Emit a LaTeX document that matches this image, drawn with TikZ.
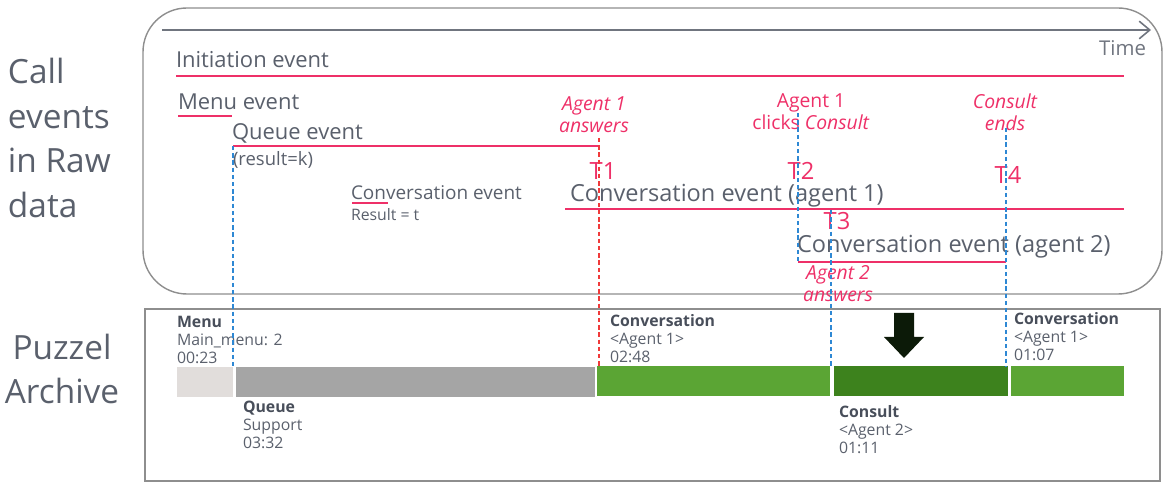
\documentclass[tikz,border=0pt]{standalone}
\usepackage{fontspec}
\setmainfont{Open Sans}
\usetikzlibrary{positioning, arrows.meta}
\definecolor{txtgray}{HTML}{5A606C}
\definecolor{txtdark}{HTML}{484E5A}
\definecolor{evpink}{HTML}{EE3068}
\definecolor{ansred}{HTML}{F03A3A}
\definecolor{tblue}{HTML}{2E88D4}
\definecolor{framegray}{HTML}{8E8E8E}
\definecolor{timegray}{HTML}{70757F}
\definecolor{menugray}{HTML}{E1DDDB}
\definecolor{queuegray}{HTML}{A5A5A5}
\definecolor{convgreen}{HTML}{5BA534}
\definecolor{consgreen}{HTML}{3D821D}
\definecolor{arrowdark}{HTML}{0C1A08}
\begin{document}
\begin{tikzpicture}[x=0.02cm, y=-0.02cm, inner sep=0pt, outer sep=0pt,
    txt/.style={text=txtgray, anchor=base west},
    evtxt/.style={txt, font=\fontsize{12.5}{15}\selectfont},
    bigev/.style={txt, font=\fontsize{13.4}{16}\selectfont},
    smtxt/.style={txt, font=\fontsize{9}{11}\selectfont},
    side/.style={text=txtgray, font=\fontsize{19}{25.5}\selectfont},
    note/.style={text=evpink, align=center, font=\fontsize{11}{12.5}\selectfont\itshape},
    noteup/.style={note, font=\fontsize{11}{12.5}\selectfont},
    tmark/.style={text=evpink, font=\fontsize{13.5}{15}\selectfont},
    evline/.style={draw=evpink, line width=0.9pt},
    tdash/.style={draw=tblue, line width=0.6pt, dash pattern=on 2.5pt off 1.6pt},
    adash/.style={tdash, draw=ansred},
    frame/.style={draw=framegray, line width=0.8pt},
    barlbl/.style={text=txtgray, align=left, anchor=west, font=\fontsize{9}{10.2}\selectfont}]
  \useasboundingbox (0,0) rectangle (1164,482);

  % side titles
  \node[side, align=left, anchor=west] (rawtitle) at (8,138) {Call\\events\\in Raw\\data};
  \node[side, align=center] (archtitle) at (62,369) {Puzzel\\Archive};

  % frames
  \draw[frame, rounded corners=25pt] (143,8) rectangle (1162,294);
  \draw[frame] (145,309) rectangle (1160,481);

  % time axis
  \coordinate (t0) at (162,30);
  \coordinate (t1) at (1151,30);
  \draw[timegray, line width=0.9pt, -{Straight Barb[length=6pt, width=10pt]}] (t0) -- (t1);
  \node[text=timegray, anchor=east, font=\fontsize{11.6}{14}\selectfont] (timelbl) at (1146,48) {Time};

  % raw events
  \node[evtxt] (initlbl) at (176,68) {Initiation event};
  \coordinate (init-s) at (176,76);
  \coordinate (init-e) at (1124,76);
  \path[evline] (init-s) edge (init-e);

  \node[evtxt] (menulbl) at (178,110) {Menu event};
  \coordinate (menu-s) at (178,116);
  \coordinate (menu-e) at (232,116);
  \path[evline] (menu-s) edge (menu-e);

  \node[evtxt] (queuelbl) at (232,140) {Queue event};
  \node[txt, font=\fontsize{10.5}{12}\selectfont] (queueres) at (233,166) {(result=k)};
  \coordinate (queue-s) at (233,146);
  \coordinate (queue-e) at (599,146);
  \path[evline] (queue-s) edge (queue-e);

  \node[txt, font=\fontsize{10.8}{13}\selectfont] (convlbl) at (351,200) {Conversation event};
  \node[smtxt] (convres) at (351,221) {Result = t};
  \coordinate (conv-s) at (352,203);
  \coordinate (conv-e) at (388,203);
  \path[evline] (conv-s) edge (conv-e);

  \node[bigev] (conv1lbl) at (570,202) {Conversation event (agent 1)};
  \coordinate (conv1-s) at (565,209);
  \coordinate (conv1-e) at (1124,209);
  \path[evline] (conv1-s) edge (conv1-e);

  \node[bigev] (conv2lbl) at (797,253) {Conversation event (agent 2)};
  \coordinate (conv2-s) at (798,262);
  \coordinate (conv2-e) at (1006,262);
  \path[evline] (conv2-s) edge (conv2-e);

  % notes and time marks
  \node[note] (ans1) at (594,115) {Agent 1\\answers};
  \node[noteup] (clicks) at (811,112) {Agent 1\\clicks \textit{Consult}};
  \node[note] (ends) at (1005,112) {Consult\\ends};
  \node[note] (ans2) at (838,284) {Agent 2\\answers};
  \node[tmark] (T1) at (603,171) {T1};
  \node[tmark] (T2) at (801,171) {T2};
  \node[tmark] (T3) at (837,221) {T3};
  \node[tmark] (T4) at (1008,175) {T4};

  % archive bars
  \fill[menugray] (177,367) rectangle (233,397);
  \fill[queuegray] (236,367) rectangle (595,397);
  \fill[convgreen] (597,366) rectangle (830,396);
  \fill[consgreen] (834,366) rectangle (1008,396);
  \fill[convgreen] (1011,366) rectangle (1124,396);

  \node[barlbl] (menubar) at (177,340) {\textcolor{txtdark}{\bfseries Menu}\\Main\_menu: 2\\00:23};
  \node[barlbl] (queuebar) at (243,425) {\textcolor{txtdark}{\bfseries Queue}\\Support\\03:32};
  \node[barlbl] (conv1bar) at (610,339) {\textcolor{txtdark}{\bfseries Conversation}\\<Agent 1>\\02:48};
  \node[barlbl] (consbar) at (839,430) {\textcolor{txtdark}{\bfseries Consult}\\<Agent 2>\\01:11};
  \node[barlbl] (conv2bar) at (1014,337) {\textcolor{txtdark}{\bfseries Conversation}\\<Agent 1>\\01:07};

  % block arrow
  \fill[arrowdark] (894,313) -- (914,313) -- (914,337) -- (924,337) -- (904,358)
    -- (884,337) -- (894,337) -- cycle;

  % time lines
  \coordinate (q-top) at (233,146);
  \coordinate (q-bot) at (233,366);
  \path[tdash] (q-top) edge (q-bot);
  \coordinate (a1-top) at (599,138);
  \coordinate (a1-bot) at (599,366);
  \path[adash] (a1-top) edge (a1-bot);
  \coordinate (t2-top) at (798,113);
  \path[tdash] (t2-top) edge (conv2-s);
  \coordinate (t3-top) at (831,210);
  \coordinate (t3-bot) at (831,366);
  \path[tdash] (t3-top) edge (t3-bot);
  \coordinate (t4-top) at (1006,128);
  \coordinate (t4-bot) at (1006,366);
  \path[tdash] (t4-top) edge (t4-bot);
\end{tikzpicture}
\end{document}
